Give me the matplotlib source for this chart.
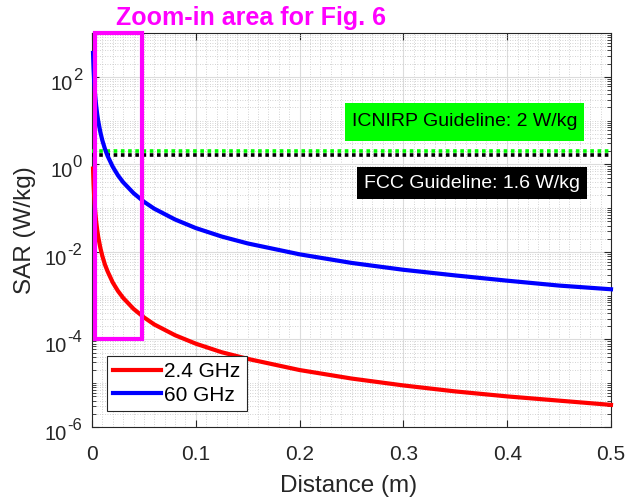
import matplotlib
matplotlib.use("Agg")
import matplotlib.pyplot as plt
from matplotlib.patches import Rectangle
from matplotlib.transforms import ScaledTranslation
from matplotlib.ticker import FixedLocator, MultipleLocator, LogLocator, NullFormatter

plt.rcParams['font.family'] = ['Liberation Sans', 'DejaVu Sans']

# values
distance = [0.001, 0.0015, 0.002, 0.003, 0.004, 0.005, 0.006, 0.008, 0.01, 0.0125,
            0.015, 0.02, 0.025, 0.03, 0.04, 0.05, 0.06, 0.08, 0.1, 0.125,
            0.15, 0.2, 0.25, 0.3, 0.35, 0.4, 0.45, 0.5]
sar_24ghz = [0.8, 0.36, 0.2, 0.089, 0.05, 0.032, 0.022, 0.0125, 0.008, 0.0051,
             0.0036, 0.002, 0.00128, 0.00089, 0.0005, 0.00032, 0.00022, 0.000125, 8e-5, 5.1e-5,
             3.6e-5, 2e-5, 1.28e-5, 8.9e-6, 6.5e-6, 5e-6, 4e-6, 3.2e-6]
sar_60ghz = [350, 156, 88, 39, 22, 14, 9.7, 5.5, 3.5, 2.24,
             1.56, 0.88, 0.56, 0.39, 0.22, 0.14, 0.097, 0.055, 0.035, 0.0224,
             0.0156, 0.0088, 0.0056, 0.0039, 0.0029, 0.0022, 0.0017, 0.0014]
icnirp_limit = 2.0
fcc_limit = 1.6
zoom_x = [0.003, 0.048]
zoom_y = [1e-4, 1e3]
x_ticks = [0, 0.1, 0.2, 0.3, 0.4, 0.5]
x_tick_labels = ['0', '0.1', '0.2', '0.3', '0.4', '0.5']
y_ticks = [1e-6, 1e-4, 1e-2, 1e0, 1e2]
y_tick_exponents = ['-6', '-4', '-2', '0', '2']

W, H = 626, 497
fig = plt.figure(figsize=(W / 100, H / 100), dpi=100)
ax = fig.add_axes([92 / W, 1 - 427 / H, 519 / W, 394 / H])

ax.set_yscale('log')
ax.set_xlim(0, 0.5)
ax.set_ylim(1e-6, 1e3)

ax.plot([0, 0.5], [icnirp_limit, icnirp_limit], color='#00ff00', lw=2.6, dashes=(1, 1), zorder=3)
ax.plot([0, 0.5], [fcc_limit, fcc_limit], color='black', lw=2.6, dashes=(1, 1), zorder=3)
l1, = ax.plot(distance, sar_24ghz, color='red', lw=3, label='2.4 GHz', zorder=4, clip_on=False)
l2, = ax.plot(distance, sar_60ghz, color='blue', lw=3, label='60 GHz', zorder=4, clip_on=False)

ax.add_patch(Rectangle((zoom_x[0], zoom_y[0]), zoom_x[1] - zoom_x[0], zoom_y[1] - zoom_y[0],
                       fill=False, edgecolor='#ff00ff', lw=3, zorder=5, clip_on=False))

ax.xaxis.set_major_locator(FixedLocator(x_ticks))
ax.xaxis.set_minor_locator(MultipleLocator(0.01))
ax.set_xticklabels(x_tick_labels)
ax.yaxis.set_major_locator(FixedLocator(y_ticks))
ax.set_yticklabels([''] * len(y_ticks))
ax.yaxis.set_minor_locator(LogLocator(base=10, subs=range(1, 10), numticks=50))
ax.yaxis.set_minor_formatter(NullFormatter())

ax.tick_params(which='both', direction='in', top=True, right=True, colors='#262626', labelsize=15)
ax.tick_params(which='major', length=5, width=0.8)
ax.tick_params(axis='x', which='major', pad=13)
ax.tick_params(axis='y', which='minor', length=3, width=0.6)
ax.tick_params(axis='x', which='minor', length=0)
for s in ax.spines.values():
    s.set_color('#262626')
    s.set_linewidth(0.8)

ax.grid(True, which='major', color='#dcdcdc', lw=0.8, ls='-', zorder=0)
ax.grid(True, which='minor', color='#c4c4c4', lw=0.6, ls=(0, (1, 2)), zorder=0)
ax.set_axisbelow(True)

# y tick labels as 10 with a large superscript, right aligned
renderer = fig.canvas.get_renderer()
ytrans = ax.get_yaxis_transform()
x_right = (82 - 92) / 519
for val, ex in zip(y_ticks, y_tick_exponents):
    t_ex = ax.text(x_right, val, ex, ha='right', va='baseline', fontsize=12, color='#262626',
                   transform=ytrans + ScaledTranslation(0, -2.2 / 72, fig.dpi_scale_trans))
    bb = t_ex.get_window_extent(renderer)
    x_left = ax.transAxes.inverted().transform((bb.x0, 0))[0]
    ax.text(x_left, val, '10', ha='right', va='baseline', fontsize=14.5, color='#262626',
            transform=ytrans + ScaledTranslation(0, -9.4 / 72, fig.dpi_scale_trans))

ax.set_xlabel('Distance (m)', fontsize=17.5, color='#262626')
ax.xaxis.set_label_coords(0.495, -0.123)
ax.set_ylabel('SAR (W/kg)', fontsize=17.5, color='#262626')
ax.yaxis.set_label_coords(-0.108, 0.5)

leg = ax.legend(handles=[l1, l2], loc='lower left', bbox_to_anchor=(0.029, 0.041),
                borderaxespad=0, fontsize=15, fancybox=False, framealpha=1,
                edgecolor='#262626', handlelength=2.3, handletextpad=0.15,
                borderpad=0.3, labelspacing=0.2)
leg.get_frame().set_linewidth(0.8)

# guideline boxes
fig.patches.append(Rectangle((345 / W, 1 - 141 / H), 239 / W, 38 / H, transform=fig.transFigure,
                             facecolor='#00ff00', edgecolor='none', zorder=6))
fig.text(464.5 / W, 1 - 122 / H, 'ICNIRP Guideline: 2 W/kg', ha='center', va='center',
         fontsize=14, color='black', zorder=7)
fig.patches.append(Rectangle((357 / W, 1 - 199 / H), 230 / W, 32 / H, transform=fig.transFigure,
                             facecolor='black', edgecolor='none', zorder=6))
fig.text(472 / W, 1 - 183 / H, 'FCC Guideline: 1.6 W/kg', ha='center', va='center',
         fontsize=14, color='white', zorder=7)

fig.text(251 / W, 1 - 18 / H, 'Zoom-in area for Fig. 6', ha='center', va='center',
         fontsize=18, fontweight='bold', color='#ff00ff')

fig.savefig('out.png', dpi=100)
plt.close(fig)
